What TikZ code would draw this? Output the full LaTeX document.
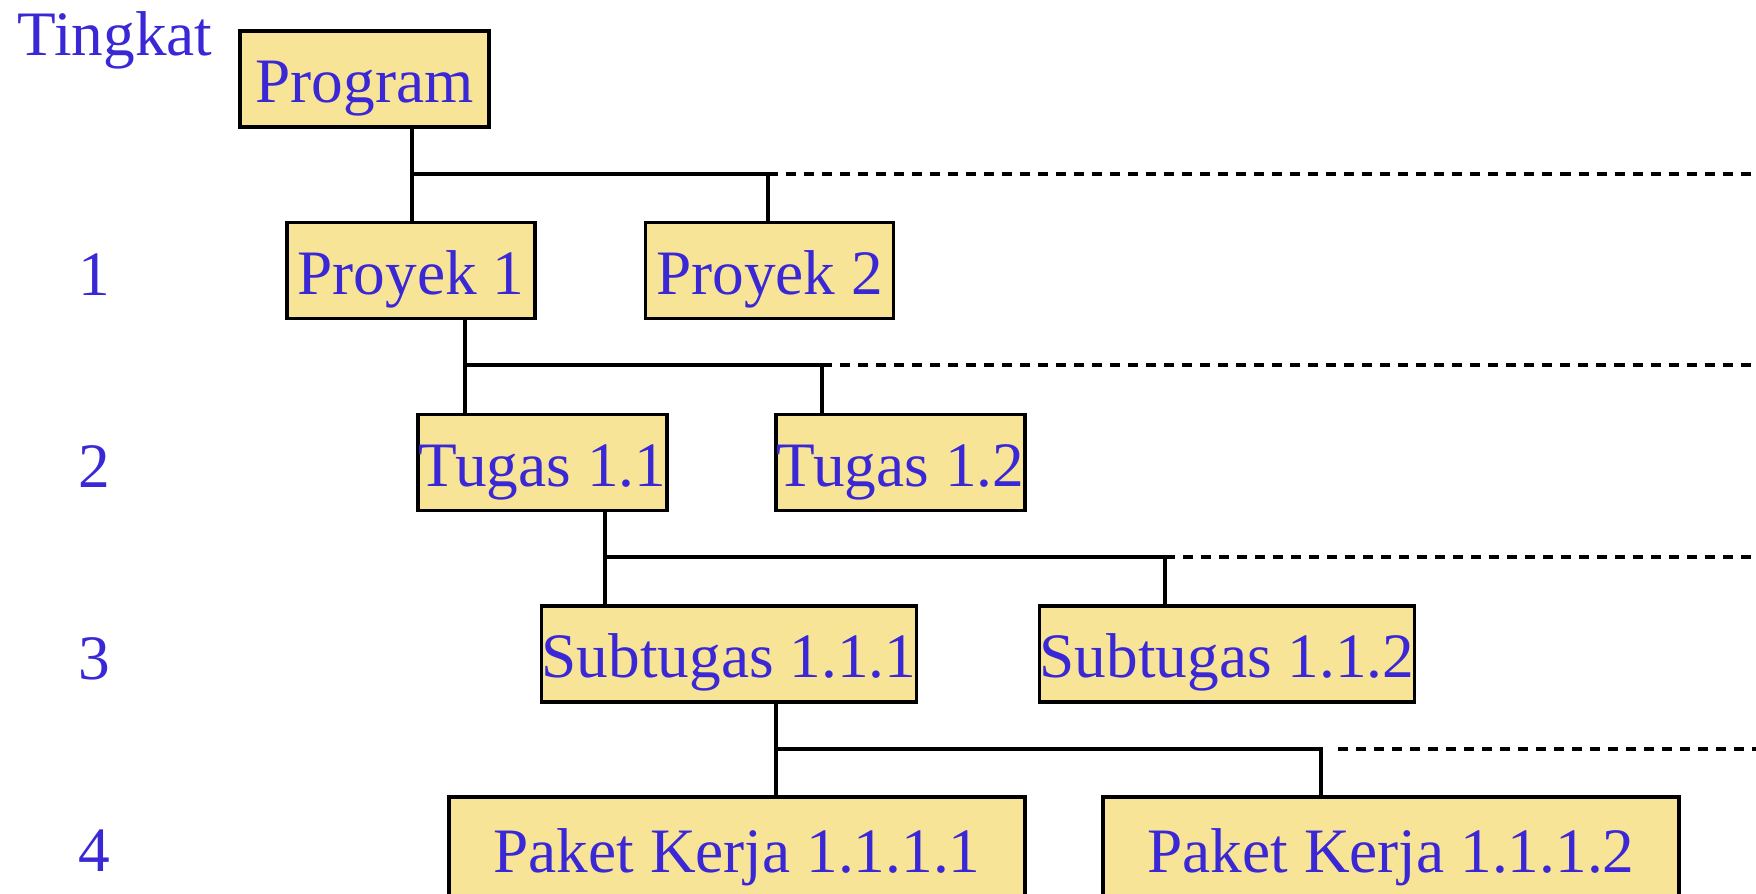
\documentclass[tikz,border=0pt]{standalone}
\usepackage{fontspec}
\setmainfont{Liberation Serif}
\usepackage{xcolor}
\usepackage{tikz}
\usetikzlibrary{positioning}
\definecolor{boxfill}{RGB}{248,228,150}
\definecolor{lvltext}{RGB}{58,40,214}

\begin{document}
\begin{tikzpicture}[
  x=0.01cm,y=-0.01cm,
  wbs/.style={rectangle,draw,line width=1pt,fill=boxfill,text=lvltext,
    inner sep=0pt,minimum height=0.96cm,text height=13.5pt,text depth=0pt,
    font=\fontsize{18}{20}\selectfont},
  lvl/.style={text=lvltext,inner sep=0pt,font=\fontsize{18}{20}\selectfont},
  link/.style={line width=1.1pt},
  more/.style={line width=1pt,dash pattern=on 0.1cm off 0.08cm},
]
\path[use as bounding box,clip] (0,0) rectangle (1756,893);

% level labels
\node [lvl,anchor=base west] (tingkat) at (17,55) {Tingkat};
\node [lvl,anchor=base] (lvl1) at (94,295) {1};
\node [lvl,anchor=base] (lvl2) at (94,487) {2};
\node [lvl,anchor=base] (lvl3) at (94,679) {3};
\node [lvl,anchor=base] (lvl4) at (94,871) {4};

% boxes
\node [wbs,minimum width=2.49cm] (prog) at (364.5,79) {Program};
\node [wbs,minimum width=2.48cm] (p1) at (411,270.5) {Proyek 1};
\node [wbs,minimum width=2.48cm] (p2) at (769.5,270.5) {Proyek 2};
\node [wbs,minimum width=2.49cm] (t11) at (542.5,462.5) {Tugas 1.1};
\node [wbs,minimum width=2.49cm] (t12) at (900.5,462.5) {Tugas 1.2};
\node [wbs,minimum width=3.74cm] (s111) at (729,654) {Subtugas 1.1.1};
\node [wbs,minimum width=3.74cm] (s112) at (1227,654) {Subtugas 1.1.2};
\node [wbs,minimum width=5.76cm,minimum height=1.04cm] (k1111) at (737,849) {Paket Kerja 1.1.1.1};
\node [wbs,minimum width=5.76cm,minimum height=1.04cm] (k1112) at (1391,849) {Paket Kerja 1.1.1.2};

% junctions
\coordinate (a1) at (412,174);  \coordinate (b1) at (768,174);  \coordinate (e1) at (1756,174);
\coordinate (a2) at (465,365);  \coordinate (b2) at (822,365);  \coordinate (e2) at (1756,365);
\coordinate (a3) at (605,557);  \coordinate (b3) at (1165,557); \coordinate (e3) at (1756,557);
\coordinate (a4) at (776,749);  \coordinate (b4) at (1321,749); \coordinate (e4) at (1756,749);

% connectors
\draw [link] (a1 |- prog.south) -- (a1 |- p1.north);
\draw [link] (a1) -- (b1) -- (b1 |- p2.north);
\draw [more] (b1) -- (e1);
\draw [link] (a2 |- p1.south) -- (a2 |- t11.north);
\draw [link] (a2) -- (b2) -- (b2 |- t12.north);
\draw [more] (b2) -- (e2);
\draw [link] (a3 |- t11.south) -- (a3 |- s111.north);
\draw [link] (a3) -- (b3) -- (b3 |- s112.north);
\draw [more] (b3) -- (e3);
\draw [link] (a4 |- s111.south) -- (a4 |- k1111.north);
\draw [link] (a4) -- (b4) -- (b4 |- k1112.north);
\draw [more] ([xshift=0.17cm]b4) -- (e4);
\end{tikzpicture}
\end{document}
